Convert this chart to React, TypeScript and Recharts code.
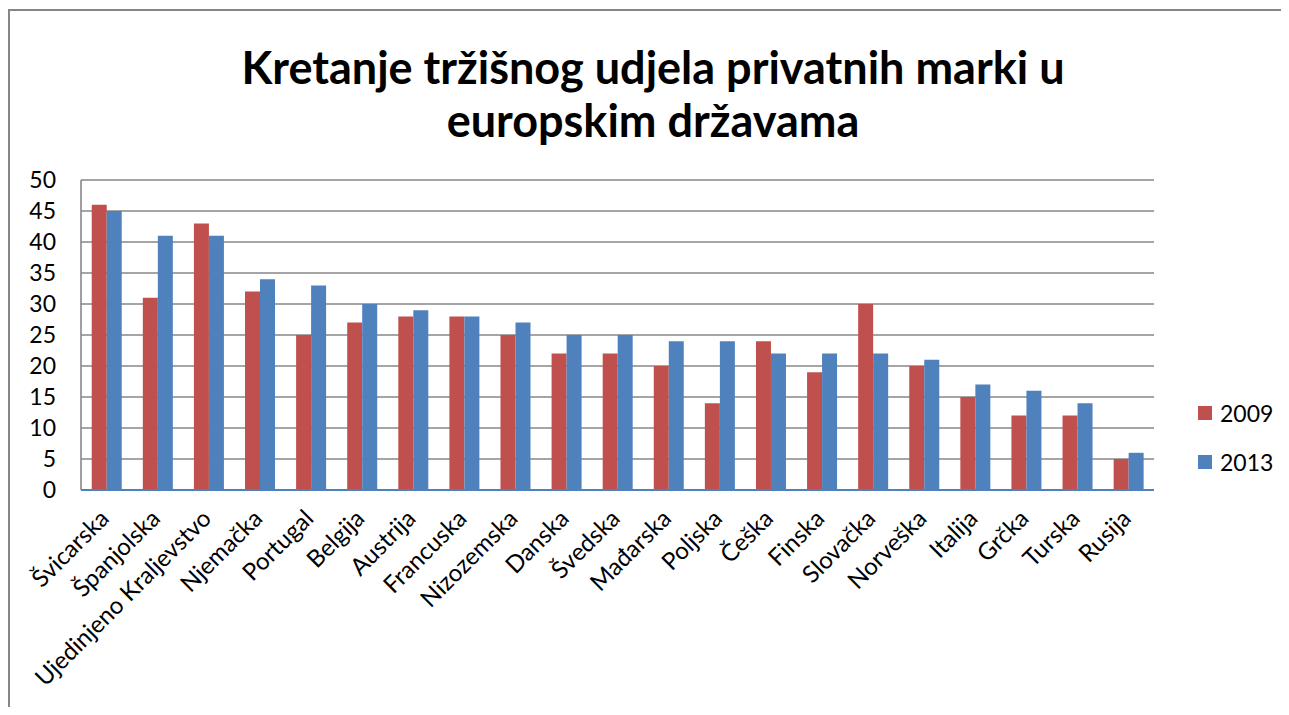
import React from 'react';
import { BarChart, Bar, XAxis, YAxis, CartesianGrid } from 'recharts';

const countries = ['Švicarska', 'Španjolska', 'Ujedinjeno Kraljevstvo', 'Njemačka', 'Portugal', 'Belgija', 'Austrija', 'Francuska', 'Nizozemska', 'Danska', 'Švedska', 'Mađarska', 'Poljska', 'Češka', 'Finska', 'Slovačka', 'Norveška', 'Italija', 'Grčka', 'Turska', 'Rusija'];
const values2009 = [46, 31, 43, 32, 25, 27, 28, 28, 25, 22, 22, 20, 14, 24, 19, 30, 20, 15, 12, 12, 5];
const values2013 = [45, 41, 41, 34, 33, 30, 29, 28, 27, 25, 25, 24, 24, 22, 22, 22, 21, 17, 16, 14, 6];
const yTicks = [0, 5, 10, 15, 20, 25, 30, 35, 40, 45, 50];
const seriesNames = ['2009', '2013'];
const colors = ['#c0504d', '#4f81bd'];
const title = ['Kretanje tržišnog udjela privatnih marki u', 'europskim državama'];

const data = countries.map((c, i) => ({ name: c, v2009: values2009[i], v2013: values2013[i] }));

const FONT = 'Lato, "Open Sans", sans-serif';

const XTick = (props: any) => {
  const { x, y, payload } = props;
  return (
    <g transform={`translate(${x + 4},${y + 22})`}>
      <text textAnchor="end" transform="rotate(-45)" fontSize={24} fontFamily={FONT} fill="#000">
        {payload.value}
      </text>
    </g>
  );
};

export default function App() {
  return (
    <div style={{ position: 'relative', width: 1281, height: 699, overflow: 'hidden', background: '#fff' }}>
      <div style={{ position: 'absolute', left: 0, top: 1, width: 1400, height: 800, borderTop: '2px solid #868686', borderLeft: '2px solid #868686' }} />
      <div style={{ position: 'absolute', left: 0, top: 33, width: 1290, textAlign: 'center', fontFamily: FONT, fontWeight: 700, fontSize: 45, lineHeight: '53px', color: '#000' }}>
        <div>{title[0]}</div>
        <div>{title[1]}</div>
      </div>
      <div style={{ position: 'absolute', left: 0, top: 0 }}>
        <BarChart width={1281} height={699} data={data} margin={{ top: 172, right: 135, bottom: 17, left: 0 }} barCategoryGap="21%" barGap={0}>
          <CartesianGrid vertical={false} stroke="#878787" strokeWidth={1.6} />
          <XAxis dataKey="name" interval={0} height={200} tick={<XTick />} tickLine={false} axisLine={{ stroke: '#4f81bd', strokeWidth: 2 }} />
          <YAxis domain={[0, 50]} ticks={yTicks} interval={0} width={73} tickLine={false} tickMargin={19} axisLine={{ stroke: '#878787', strokeWidth: 1.6 }} tick={{ fill: '#000', fontSize: 23, fontFamily: FONT }} />
          <Bar dataKey="v2009" name={seriesNames[0]} fill={colors[0]} isAnimationActive={false} />
          <Bar dataKey="v2013" name={seriesNames[1]} fill={colors[1]} isAnimationActive={false} />
        </BarChart>
      </div>
      {seriesNames.map((s, i) => (
        <div key={s} style={{ position: 'absolute', left: 1190, top: 391 + i * 49, display: 'flex', alignItems: 'center', fontFamily: FONT, fontSize: 23, color: '#000' }}>
          <span style={{ display: 'inline-block', width: 14, height: 14, background: colors[i], marginRight: 8 }} />
          <span>{s}</span>
        </div>
      ))}
    </div>
  );
}
